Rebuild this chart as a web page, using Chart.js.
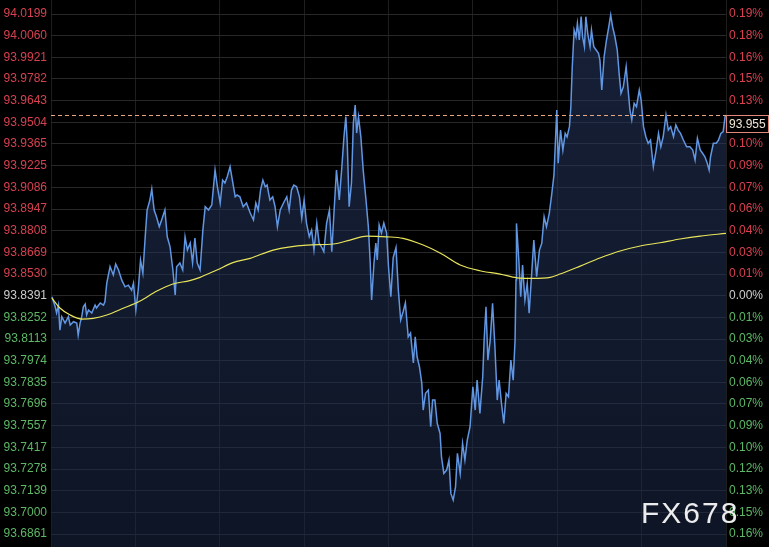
<!DOCTYPE html>
<html>
<head>
<meta charset="utf-8">
<script src="https://cdn.jsdelivr.net/npm/chart.js@4.4.1/dist/chart.umd.min.js"></script>
<style>
  html, body { margin: 0; padding: 0; background: #000; }
  #wrap { width: 769px; height: 547px; position: relative; }
</style>
</head>
<body>
<div id="wrap"><canvas id="chart"></canvas></div>
<script>
// minutes since session start (24h window, 8 divisions)
const priceTimes = [
  2, 9, 12, 16, 19, 23, 30, 37, 41, 48, 55, 58, 62, 65, 69, 73, 76, 80, 87, 94,
  97, 105, 112, 115, 119, 126, 133, 138, 144, 151, 158, 165, 172, 176, 181, 186, 191, 196, 201, 205,
  211, 215, 220, 225, 231, 236, 243, 248, 254, 260, 265, 268, 275, 281, 286, 291, 297, 302, 307, 312,
  318, 324, 329, 336, 343, 346, 350, 355, 361, 366, 371, 376, 382, 388, 393, 397, 403, 410, 417, 425,
  432, 437, 442, 447, 452, 457, 461, 467, 473, 478, 483, 489, 496, 503, 508, 513, 518, 524, 530, 535,
  540, 545, 551, 556, 561, 567, 572, 577, 582, 588, 594, 599, 604, 609, 615, 620, 625, 629, 632, 636,
  641, 645, 649, 652, 656, 661, 666, 672, 677, 681, 684, 689, 693, 696, 700, 705, 710, 716, 720, 725,
  730, 736, 741, 746, 751, 756, 762, 767, 773, 777, 781, 786, 791, 794, 799, 805, 810, 814, 819, 824,
  830, 833, 838, 844, 849, 853, 858, 863, 867, 873, 878, 883, 888, 894, 900, 905, 909, 915, 921, 924,
  928, 932, 937, 942, 947, 952, 956, 961, 966, 971, 976, 981, 986, 990, 992, 993, 998, 1002, 1006, 1011,
  1016, 1020, 1025, 1030, 1036, 1042, 1047, 1052, 1057, 1063, 1068, 1073, 1079, 1082, 1087, 1092, 1097, 1101, 1106, 1109,
  1112, 1116, 1120, 1123, 1127, 1131, 1134, 1138, 1141, 1145, 1150, 1153, 1158, 1163, 1168, 1171, 1175, 1180, 1185, 1190,
  1194, 1198, 1203, 1208, 1212, 1216, 1221, 1227, 1230, 1235, 1239, 1244, 1249, 1255, 1259, 1264, 1269, 1274, 1279, 1285,
  1291, 1296, 1301, 1306, 1312, 1317, 1322, 1328, 1333, 1338, 1343, 1349, 1356, 1363, 1369, 1374, 1379, 1385, 1390, 1395,
  1400, 1404, 1407, 1413, 1419, 1424, 1429, 1434, 1438, 1440
];
const prices = [
  93.8384, 93.8320, 93.8280, 93.8331, 93.8170, 93.8256, 93.8215, 93.8256, 93.8203, 93.8224,
  93.8215, 93.8138, 93.8215, 93.8247, 93.8320, 93.8337, 93.8267, 93.8299, 93.8280, 93.8331,
  93.8312, 93.8344, 93.8331, 93.8352, 93.8472, 93.8577, 93.8524, 93.8594, 93.8556, 93.8491,
  93.8448, 93.8459, 93.8427, 93.8472, 93.8299, 93.8427, 93.8620, 93.8536, 93.8769, 93.8941,
  93.9005, 93.9076, 93.8941, 93.8898, 93.8834, 93.8877, 93.8941, 93.8769, 93.8705, 93.8556,
  93.8395, 93.8577, 93.8601, 93.8556, 93.8769, 93.8684, 93.8729, 93.8601, 93.8761, 93.8601,
  93.8556, 93.8812, 93.8962, 93.8941, 93.8973, 93.9069, 93.9198, 93.9090, 93.8986, 93.9133,
  93.9114, 93.9155, 93.9219, 93.9114, 93.9026, 93.9037, 93.9026, 93.8962, 93.8986, 93.8922,
  93.8877, 93.8986, 93.8941, 93.9069, 93.9133, 93.9090, 93.9101, 93.9005, 93.9026, 93.8962,
  93.8834, 93.8941, 93.8986, 93.9026, 93.8941, 93.9069, 93.9101, 93.9090, 93.9026, 93.8889,
  93.9005, 93.8857, 93.8769, 93.8812, 93.8684, 93.8857, 93.8729, 93.8705, 93.8673, 93.8857,
  93.8941, 93.8673, 93.8941, 93.9198, 93.9005, 93.9198, 93.9411, 93.9540, 93.9371, 93.8962,
  93.9114, 93.9499, 93.9615, 93.9435, 93.9540, 93.9411, 93.9198, 93.9005, 93.8834, 93.8601,
  93.8363, 93.8601, 93.8729, 93.8620, 93.8845, 93.8793, 93.8857, 93.8793, 93.8577, 93.8384,
  93.8636, 93.8700, 93.8427, 93.8235, 93.8286, 93.8344, 93.8127, 93.8151, 93.7959, 93.8127,
  93.7999, 93.7935, 93.7830, 93.7657, 93.7764, 93.7785, 93.7550, 93.7721, 93.7721, 93.7571,
  93.7507, 93.7357, 93.7250, 93.7272, 93.7336, 93.7122, 93.7079, 93.7164, 93.7379, 93.7250,
  93.7443, 93.7336, 93.7464, 93.7550, 93.7806, 93.7657, 93.7849, 93.7636, 93.7871, 93.8106,
  93.8320, 93.7978, 93.8106, 93.8342, 93.8063, 93.7721, 93.7849, 93.7700, 93.7571, 93.7764,
  93.7742, 93.7978, 93.7849, 93.8106, 93.8491, 93.8855, 93.8620, 93.8384, 93.8588, 93.8363,
  93.8470, 93.8278, 93.8513, 93.8748, 93.8513, 93.8684, 93.8727, 93.8898, 93.8834, 93.8920,
  93.9037, 93.9166, 93.9583, 93.9241, 93.9454, 93.9326, 93.9433, 93.9411, 93.9476, 93.9604,
  93.9861, 94.0096, 94.0053, 94.0139, 94.0032, 94.0182, 94.0053, 93.9989, 94.0182, 94.0075,
  93.9989, 94.0096, 93.9989, 93.9968, 93.9947, 93.9904, 93.9711, 93.9925, 94.0032, 94.0118,
  94.0193, 94.0118, 94.0053, 93.9968, 93.9818, 93.9690, 93.9732, 93.9861, 93.9754, 93.9583,
  93.9519, 93.9626, 93.9604, 93.9711, 93.9647, 93.9476, 93.9411, 93.9369, 93.9390, 93.9219,
  93.9326, 93.9433, 93.9347, 93.9411, 93.9551, 93.9454, 93.9476, 93.9411, 93.9487, 93.9454,
  93.9433, 93.9390, 93.9347, 93.9347, 93.9326, 93.9262, 93.9401, 93.9326, 93.9305, 93.9283,
  93.9241, 93.9198, 93.9283, 93.9369, 93.9369, 93.9390, 93.9433, 93.9444, 93.9540, 93.9550
];

// moving average (yellow)
const maTimes = [
  2, 19, 41, 66, 90, 119, 154, 190, 226, 260, 296, 318, 354, 388, 425, 474, 546, 602, 638, 674,
  717, 751, 794, 830, 873, 915, 958, 994, 1028, 1065, 1086, 1129, 1171, 1214, 1257, 1299, 1342, 1385, 1440
];
const maValues = [
  93.8376, 93.8312, 93.8267, 93.8241, 93.8246, 93.8267, 93.8310, 93.8357, 93.8421, 93.8466,
  93.8488, 93.8509, 93.8556, 93.8603, 93.8631, 93.8684, 93.8716, 93.8723, 93.8748, 93.8774,
  93.8769, 93.8759, 93.8716, 93.8665, 93.8588, 93.8551, 93.8530, 93.8506, 93.8502, 93.8509,
  93.8530, 93.8581, 93.8633, 93.8678, 93.8710, 93.8731, 93.8755, 93.8774, 93.8791
];

const priceTicks = [
  94.0199, 94.0060, 93.9921, 93.9782, 93.9643, 93.9504, 93.9365, 93.9225, 93.9086, 93.8947,
  93.8808, 93.8669, 93.8530, 93.8391, 93.8252, 93.8113, 93.7974, 93.7835, 93.7696, 93.7557,
  93.7417, 93.7278, 93.7139, 93.7000, 93.6861
];
const basePrice = 93.8391;
const lastPrice = 93.955;
const yMin = 93.6778;
const yMax = 94.0289;

const RED = '#d8404f';
const GREEN = '#5db866';
const GREY = '#cdcdcd';
const FONT = "'Liberation Sans', Arial, sans-serif";

function tickColor(v) {
  if (Math.abs(v - basePrice) < 1e-6) return GREY;
  return v > basePrice ? RED : GREEN;
}

// y scales: fixed ticks, fixed widths, no extra padding for labels
function fitY(width) {
  return (s) => {
    s.width = width;
    s.paddingTop = 0;
    s.paddingBottom = 0;
  };
}

const overlayPlugin = {
  id: 'overlay',
  afterDraw(chart) {
    const { ctx, chartArea, scales } = chart;
    const y = Math.round(scales.y.getPixelForValue(lastPrice)) + 0.5;
    ctx.save();
    // last price dashed line
    ctx.strokeStyle = '#e9a77f';
    ctx.lineWidth = 1;
    ctx.setLineDash([4, 3]);
    ctx.beginPath();
    ctx.moveTo(chartArea.left, y);
    ctx.lineTo(chartArea.right, y);
    ctx.stroke();
    ctx.setLineDash([]);
    // price box
    const bx = chartArea.right + 0.5, bw = chart.width - chartArea.right - 1, bh = 17;
    ctx.fillStyle = '#000';
    ctx.fillRect(bx, y, bw, bh);
    ctx.strokeStyle = '#e3867a';
    ctx.strokeRect(bx, y, bw, bh);
    ctx.fillStyle = '#f2e6d8';
    ctx.font = '12px ' + FONT;
    ctx.textBaseline = 'middle';
    ctx.textAlign = 'left';
    ctx.fillText(lastPrice.toFixed(3), bx + 2.5, y + bh / 2 + 0.5);
    // watermark
    ctx.fillStyle = 'rgba(255,255,255,0.92)';
    ctx.font = '30px ' + FONT;
    ctx.letterSpacing = '2px';
    ctx.textBaseline = 'alphabetic';
    ctx.fillText('FX678', 641, 523);
    ctx.restore();
  }
};

const ctx = document.getElementById('chart').getContext('2d');
new Chart(ctx, {
  type: 'line',
  data: {
    datasets: [
      {
        label: 'MA',
        data: maTimes.map((t, i) => ({ x: t, y: maValues[i] })),
        borderColor: '#e8e45c',
        borderWidth: 1.2,
        pointRadius: 0,
        cubicInterpolationMode: 'monotone',
        fill: false
      },
      {
        label: 'Price',
        data: priceTimes.map((t, i) => ({ x: t, y: prices[i] })),
        borderColor: '#6196e2',
        borderWidth: 1.5,
        pointRadius: 0,
        tension: 0,
        fill: 'start',
        backgroundColor: (c) => {
          const area = c.chart.chartArea;
          if (!area) return 'rgba(30,45,80,0.45)';
          const g = c.chart.ctx.createLinearGradient(0, area.top, 0, area.bottom);
          g.addColorStop(0, 'rgba(40,58,100,0.55)');
          g.addColorStop(1, 'rgba(25,38,68,0.55)');
          return g;
        }
      }
    ]
  },
  options: {
    responsive: true, maintainAspectRatio: false, animation: false,
    layout: { padding: 0 },
    plugins: { legend: { display: false }, tooltip: { enabled: false } },
    scales: {
      x: {
        type: 'linear', min: 0, max: 1440,
        ticks: { display: false, stepSize: 180 },
        grid: { color: '#1e1e1e', drawTicks: false },
        border: { display: false },
        afterFit: (s) => { s.height = 0; s.paddingLeft = 0; s.paddingRight = 0; }
      },
      y: {
        position: 'left', min: yMin, max: yMax,
        afterBuildTicks: (s) => { s.ticks = priceTicks.map(v => ({ value: v })); },
        afterFit: fitY(51),
        ticks: {
          padding: 4,
          font: { size: 12, family: FONT },
          color: (c) => tickColor(c.tick.value),
          callback: (v) => v.toFixed(4)
        },
        grid: { color: '#282828', drawTicks: false },
        border: { display: false }
      },
      y2: {
        position: 'right', min: yMin, max: yMax,
        afterBuildTicks: (s) => { s.ticks = priceTicks.map(v => ({ value: v })); },
        afterFit: fitY(43),
        ticks: {
          padding: 3,
          font: { size: 12, family: FONT },
          color: (c) => tickColor(c.tick.value),
          callback: (v) => (Math.abs(v - basePrice) / basePrice * 100).toFixed(2) + '%'
        },
        grid: { display: false, drawTicks: false },
        border: { display: false }
      }
    }
  },
  plugins: [overlayPlugin]
});
</script>
</body>
</html>
